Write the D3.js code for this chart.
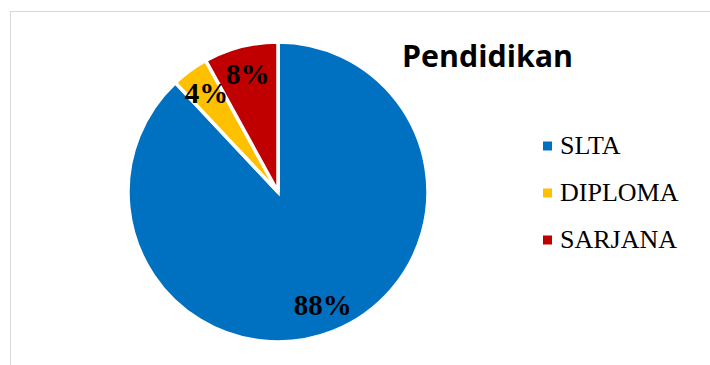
<!DOCTYPE html>
<html>
<head>
<meta charset="utf-8">
<script src="https://cdn.jsdelivr.net/npm/d3@7"></script>
<style>
  html, body { margin: 0; padding: 0; background: #fff; }
  svg { display: block; }
</style>
</head>
<body>
<svg id="chart" width="710" height="365"></svg>
<script>
const categories = ["SLTA", "DIPLOMA", "SARJANA"];
const values = [88, 4, 8];
const labels = ["88%", "4%", "8%"];
const colors = ["#0070C0", "#FFC000", "#C00000"];
const title = "Pendidikan";

const svg = d3.select("#chart");

// chart frame (cropped at right and bottom)
svg.append("rect")
  .attr("x", 10.5).attr("y", 11.5)
  .attr("width", 760).attr("height", 400)
  .attr("fill", "#fff")
  .attr("stroke", "#d9d9d9")
  .attr("stroke-width", 1);

const cx = 278, cy = 192, r = 150;
const data = categories.map((c, i) => ({ cat: c, value: values[i], label: labels[i], color: colors[i] }));

const pie = d3.pie().sort(null).value(d => d.value);
const arc = d3.arc().innerRadius(0).outerRadius(r);
const labelArc = d3.arc().innerRadius(r * 0.81).outerRadius(r * 0.81);

const g = svg.append("g").attr("transform", `translate(${cx},${cy})`);
const arcs = pie(data);

g.selectAll("path.slice")
  .data(arcs)
  .join("path")
  .attr("class", "slice")
  .attr("d", arc)
  .attr("fill", d => d.data.color)
  .attr("stroke", "#fff")
  .attr("stroke-width", 3.5)
  .attr("stroke-linejoin", "miter");

g.selectAll("text.lbl")
  .data(arcs)
  .join("text")
  .attr("class", "lbl")
  .attr("transform", d => `translate(${labelArc.centroid(d)})`)
  .attr("text-anchor", "middle")
  .attr("dy", "0.33em")
  .attr("font-family", "'Liberation Serif', 'Times New Roman', serif")
  .attr("font-weight", "bold")
  .attr("font-size", 29)
  .attr("fill", "#000")
  .text(d => d.data.label);

// title
svg.append("text")
  .attr("x", 402).attr("y", 67)
  .attr("font-family", "'Open Sans', 'Liberation Sans', sans-serif")
  .attr("font-weight", "bold")
  .attr("font-size", 30)
  .attr("textLength", 171)
  .attr("lengthAdjust", "spacingAndGlyphs")
  .attr("fill", "#000")
  .text(title);

// legend
const legY = d3.scalePoint().domain(categories).range([154, 248]);
const leg = svg.append("g");
const items = leg.selectAll("g.item").data(data).join("g").attr("class", "item")
  .attr("transform", d => `translate(0,${legY(d.cat)})`);
items.append("rect")
  .attr("x", 543).attr("y", -12.5)
  .attr("width", 9).attr("height", 9)
  .attr("fill", d => d.color);
items.append("text")
  .attr("x", 560).attr("y", 0)
  .attr("font-family", "'Liberation Serif', 'Times New Roman', serif")
  .attr("font-size", 26)
  .attr("fill", "#000")
  .text(d => d.cat);
</script>
</body>
</html>
